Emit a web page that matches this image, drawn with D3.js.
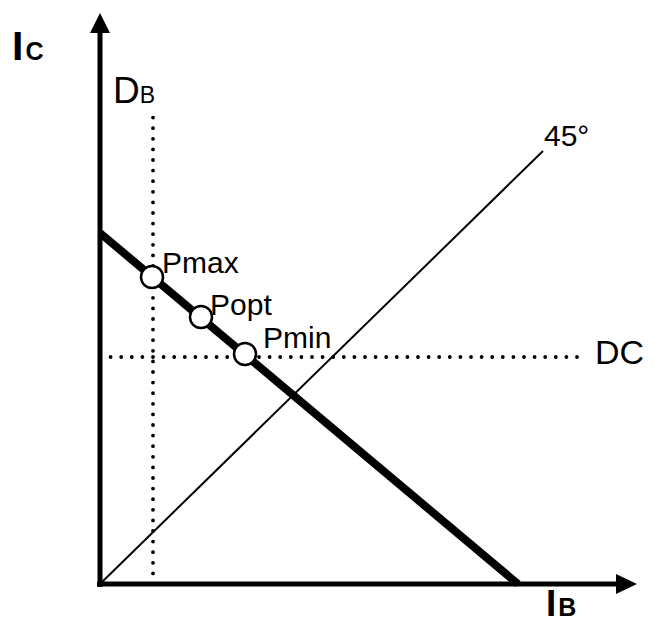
<!DOCTYPE html>
<html><head><meta charset="utf-8">
<script src="https://cdn.jsdelivr.net/npm/d3@7"></script>
<style>body{margin:0;background:#fff}svg{display:block}text{font-family:"Liberation Sans",Arial,sans-serif;fill:#000}</style>
</head><body><svg id="c" width="654" height="626"></svg>
<script>
// data (economic units)
const budgetLine = [[0, 7.02], [8.36, 0]];
const line45 = [[0, 0], [8.86, 8.66]];
const dbLine = [[1.06, 0], [1.06, 9.38]];
const dcLine = [[0, 4.54], [9.66, 4.54]];
const pointNames = ["max", "opt", "min"];
const pointX = [1.04, 2.02, 2.9];
const pointY = [6.14, 5.34, 4.6];
const axisLabels = ["I", "C", "I", "B"];
// label layout (pixel offsets from each point)
const labelDx = [10, 9, 18];
const labelDy = [-4, -2, -6];

const svg = d3.select("#c");
const x = d3.scaleLinear().domain([0, 10]).range([100, 600]);
const y = d3.scaleLinear().domain([0, 10]).range([584, 84]);
const line = d3.line().x(d => x(d[0])).y(d => y(d[1]));

// axes
svg.append("line").attr("x1", x(0)).attr("x2", x(0)).attr("y1", y(0) + 3).attr("y2", y(11.2))
  .attr("stroke", "#000").attr("stroke-width", 5);
svg.append("line").attr("x1", x(0) - 3).attr("x2", x(10.4)).attr("y1", y(0)).attr("y2", y(0))
  .attr("stroke", "#000").attr("stroke-width", 5);
svg.append("path").attr("d", d3.line()([[x(0), y(11.42)], [x(0) - 10, y(11.02)], [x(0) + 10, y(11.02)]]) + "Z").attr("fill", "#000");
svg.append("path").attr("d", d3.line()([[x(10.74), y(0)], [x(10.32), y(0) - 10], [x(10.32), y(0) + 10]]) + "Z").attr("fill", "#000");

// dotted lines
[dbLine, dcLine].forEach(l => svg.append("path").attr("d", line(l)).attr("fill", "none")
  .attr("stroke", "#000").attr("stroke-width", 3.8).attr("stroke-linecap", "round").attr("stroke-dasharray", "0 10.6"));

// 45 line
svg.append("path").attr("d", line(line45)).attr("stroke", "#000").attr("stroke-width", 2).attr("fill", "none");
// budget line
svg.append("path").attr("d", line(budgetLine)).attr("stroke", "#000").attr("stroke-width", 8).attr("fill", "none");

// points
svg.selectAll("circle.p").data(pointX).join("circle").attr("class", "p")
  .attr("cx", d => x(d)).attr("cy", (d, i) => y(pointY[i])).attr("r", 11)
  .attr("fill", "#fff").attr("stroke", "#000").attr("stroke-width", 2.5);
svg.selectAll("text.p").data(pointNames).join("text").attr("class", "p")
  .attr("x", (d, i) => x(pointX[i]) + labelDx[i]).attr("y", (d, i) => y(pointY[i]) + labelDy[i])
  .attr("font-size", 30).text(d => "P" + d);

// labels
const t1 = svg.append("text").attr("x", 12).attr("y", 60).attr("font-weight", "bold");
t1.append("tspan").attr("font-size", 41).text(axisLabels[0]);
t1.append("tspan").attr("font-size", 25).attr("dx", 2).text(axisLabels[1]);
const t2 = svg.append("text").attr("x", 546).attr("y", 616).attr("font-weight", "bold");
t2.append("tspan").attr("font-size", 37).text(axisLabels[2]);
t2.append("tspan").attr("font-size", 25).attr("dx", 2).text(axisLabels[3]);
const t3 = svg.append("text").attr("x", x(1.06) - 40).attr("y", 103);
t3.append("tspan").attr("font-size", 37).text("D");
t3.append("tspan").attr("font-size", 23).text("B");
svg.append("text").attr("x", x(9.66) + 12).attr("y", 364).attr("font-size", 34).text("DC");
svg.append("text").attr("x", 544).attr("y", 146).attr("font-size", 30).text("45°");
</script></body></html>
